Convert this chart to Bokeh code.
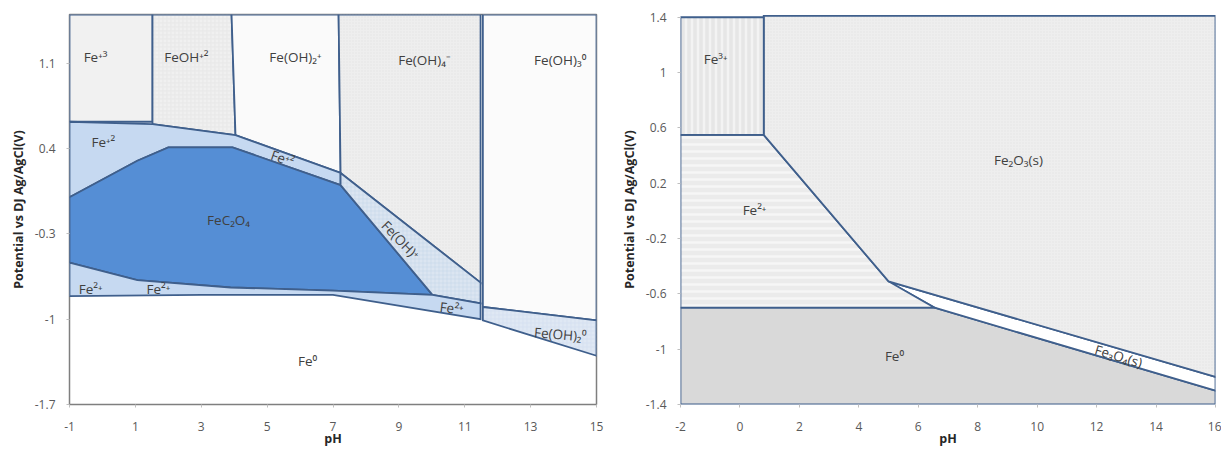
from bokeh.plotting import figure
from bokeh.layouts import row
from bokeh.models import ColumnDataSource, FixedTicker, CustomJSTickFormatter, Label, Range1d
from bokeh.embed import file_html
from bokeh.resources import INLINE
from bokeh.core.properties import value

# ---------------- Panel A data (pH, potential V vs Ag/AgCl) ----------------
a_fe3_x = [-1, 1.52, 1.52, -1]
a_fe3_y = [1.5, 1.5, 0.62, 0.62]
a_feoh2_x = [1.52, 3.92, 4.04, 1.52]
a_feoh2_y = [1.5, 1.5, 0.51, 0.60]
a_feoh2p_x = [3.92, 7.17, 7.23, 4.04]
a_feoh2p_y = [1.5, 1.5, 0.20, 0.51]
a_feoh4_x = [7.17, 11.48, 11.48, 7.23]
a_feoh4_y = [1.5, 1.5, -0.70, 0.20]
a_feoh3_x = [11.55, 15, 15, 11.55]
a_feoh3_y = [1.5, 1.5, -1.01, -0.90]
a_feoh20_x = [11.55, 15, 15, 11.55]
a_feoh20_y = [-0.90, -1.01, -1.30, -1.01]
a_fe2up_x = [-1, 1.52, 4.04, 7.23, 7.23, 3.95, 2.0, 1.06, -1]
a_fe2up_y = [0.62, 0.60, 0.51, 0.20, 0.10, 0.41, 0.41, 0.30, 0.0]
a_fec2o4_x = [-1, 1.06, 2.0, 3.95, 7.23, 10.02, 7.0, 3.89, 1.06, -1]
a_fec2o4_y = [0.0, 0.30, 0.41, 0.41, 0.10, -0.80, -0.765, -0.74, -0.68, -0.535]
a_feohp_x = [7.23, 11.48, 11.48, 10.02, 7.23]
a_feohp_y = [0.20, -0.70, -0.87, -0.80, 0.10]
a_fe2lo_x = [-1, 1.06, 3.89, 7.0, 10.02, 11.48, 11.48, 7.0, 3.0, -1]
a_fe2lo_y = [-0.535, -0.68, -0.74, -0.765, -0.80, -0.87, -1.0, -0.80, -0.80, -0.81]

a_label_text = ["Fe⁺³", "FeOH⁺²", "Fe(OH)₂⁺", "Fe(OH)₄⁻", "Fe(OH)₃⁰", "Fe⁺²", "Fe⁺²",
                "FeC₂O₄", "Fe(OH)⁺", "Fe²⁺", "Fe²⁺", "Fe²⁺", "Fe(OH)₂⁰", "Fe⁰"]
a_label_x = [-0.21, 2.55, 5.86, 9.78, 13.9, 0.03, 5.47, 3.83, 9.05, -0.36, 1.70, 10.6, 13.9, 6.23]
a_label_y = [1.15, 1.15, 1.15, 1.125, 1.125, 0.45, 0.32, -0.19, -0.35, -0.75, -0.75, -0.91, -1.125, -1.34]
a_label_angle = [0, 0, 0, 0, 0, 0, -0.33, 0, -0.80, 0, 0, -0.12, -0.08, 0]

a_xticks = [-1, 1, 3, 5, 7, 9, 11, 13, 15]
a_yticks = [-1.7, -1, -0.3, 0.4, 1.1]

# ---------------- Panel B data ----------------
b_fe3_x = [-2, 0.8, 0.8, -2]
b_fe3_y = [1.4, 1.4, 0.55, 0.55]
b_fe2o3_x = [0.8, 16, 16, 5.0, 0.8]
b_fe2o3_y = [1.41, 1.41, -1.2, -0.51, 0.55]
b_fe2_x = [-2, 0.8, 5.0, 6.55, -2]
b_fe2_y = [0.55, 0.55, -0.51, -0.70, -0.70]
b_fe3o4_x = [5.0, 16, 16, 6.55]
b_fe3o4_y = [-0.51, -1.2, -1.3, -0.70]
b_fe0_x = [-2, 6.55, 16, 16, -2]
b_fe0_y = [-0.70, -0.70, -1.3, -1.4, -1.4]

b_label_text = ["Fe³⁺", "Fe²⁺", "Fe₂O₃(s)", "Fe⁰", "Fe₃O₄(s)"]
b_label_x = [-0.82, 0.49, 9.37, 5.2, 12.74]
b_label_y = [1.10, 0.007, 0.37, -1.05, -1.05]
b_label_angle = [0, 0, 0, 0, -0.29]

b_xticks = [-2, 0, 2, 4, 6, 8, 10, 12, 14, 16]
b_yticks = [-1.4, -1, -0.6, -0.2, 0.2, 0.6, 1, 1.4]

EDGE = "#3f5f8c"
FONT = "Open Sans"
TXT = "#404040"
FMT = CustomJSTickFormatter(code="return String(Math.round(tick*10)/10);")


def style(p, xt, yt):
    p.grid.visible = False
    p.xaxis.ticker = FixedTicker(ticks=xt)
    p.yaxis.ticker = FixedTicker(ticks=yt)
    for ax in (p.xaxis[0], p.yaxis[0]):
        ax.formatter = FMT
        ax.axis_line_color = None
        ax.major_tick_in = 0
        ax.major_tick_out = 3
        ax.major_tick_line_color = "#bfbfbf"
        ax.minor_tick_line_color = None
        ax.major_label_text_font = FONT
        ax.major_label_text_font_size = "12px"
        ax.major_label_text_color = "#595959"
        ax.axis_label_text_font = FONT
        ax.axis_label_text_font_style = "bold"
        ax.axis_label_text_font_size = "12.5px"
        ax.axis_label_text_color = "#262626"
    p.xaxis.major_label_standoff = 14
    p.yaxis.major_label_standoff = 11
    p.yaxis.axis_label = "Potential vs DJ Ag/AgCl(V)"
    p.yaxis.axis_label_standoff = 5
    p.xaxis.axis_label = "pH"
    p.xaxis.axis_label_standoff = -4


def region(p, xs, ys, fill, hatch=None, hcolor=None, hscale=6, hweight=1.5, line=True):
    kw = dict(fill_color=fill, line_color=EDGE if line else None, line_width=1.8,
              line_join="miter")
    if hatch:
        kw.update(hatch_pattern=hatch, hatch_color=hcolor, hatch_scale=hscale,
                  hatch_weight=hweight)
    p.patch(xs, ys, **kw)


# ---------------- Figure A ----------------
pA = figure(width=610, height=450, x_range=Range1d(-1, 15), y_range=Range1d(-1.7, 1.5),
            output_backend="svg", toolbar_location=None,
            min_border_left=69, min_border_right=14, min_border_top=14, min_border_bottom=46)
style(pA, a_xticks, a_yticks)
pA.outline_line_color = "#7f7f7f"
pA.outline_line_width = 1.5

region(pA, a_fe3_x, a_fe3_y, "#f1f1f1")
region(pA, a_feoh2_x, a_feoh2_y, "#f0f0f0", "+", "#e2e2e2", 4, 0.6)
region(pA, a_feoh2p_x, a_feoh2p_y, "#fafafa")
region(pA, a_feoh4_x, a_feoh4_y, "#eeeeee", ".", "#e2e2e2", 3, 0.6)
region(pA, a_feoh3_x, a_feoh3_y, "#fbfbfb")
region(pA, a_feoh20_x, a_feoh20_y, "#dfe8f4", "+", "#cfdcee", 4, 0.6)
region(pA, a_fe2up_x, a_fe2up_y, "#c6d9f1")
region(pA, a_fec2o4_x, a_fec2o4_y, "#558ed5")
region(pA, a_feohp_x, a_feohp_y, "#dbe5f1", "+", "#c6d6ea", 4, 0.6)
region(pA, a_fe2lo_x, a_fe2lo_y, "#c6d9f1")

srcA = ColumnDataSource(dict(x=a_label_x, y=a_label_y, text=a_label_text, angle=a_label_angle))
pA.text(x="x", y="y", text="text", angle="angle", source=srcA, text_font=value(FONT),
        text_font_size="13.5px", text_color=TXT, text_align="center", text_baseline="middle")

pA.add_layout(Label(x=-2.8, y=1.36, text="A)", text_font="Liberation Serif",
                    text_font_size="28px", text_color="black", text_baseline="middle"))

# ---------------- Figure B ----------------
pB = figure(width=611, height=450, x_range=Range1d(-2, 16), y_range=Range1d(-1.4, 1.42),
            output_backend="svg", toolbar_location=None,
            min_border_left=70, min_border_right=6, min_border_top=14, min_border_bottom=45)
style(pB, b_xticks, b_yticks)
pB.outline_line_color = None

region(pB, b_fe0_x, b_fe0_y, "#d9d9d9")
region(pB, b_fe3o4_x, b_fe3o4_y, "#ffffff")
region(pB, b_fe2_x, b_fe2_y, "#ebebeb", "-", "#f6f6f6", 7, 2.5)
region(pB, b_fe2o3_x, b_fe2o3_y, "#eeeeee", ".", "#e4e4e4", 3, 0.6)
region(pB, b_fe3_x, b_fe3_y, "#e6e6e6", "|", "#f3f3f3", 6, 2.5)

srcB = ColumnDataSource(dict(x=b_label_x, y=b_label_y, text=b_label_text, angle=b_label_angle))
pB.text(x="x", y="y", text="text", angle="angle", source=srcB, text_font=value(FONT),
        text_font_size="13.5px", text_color=TXT, text_align="center", text_baseline="middle")

pB.add_layout(Label(x=-4.29, y=1.335, text="B)", text_font="Liberation Serif",
                    text_font_size="28px", text_color="black", text_baseline="middle"))

layout = row(pA, pB)
open("out.html", "w").write(file_html(layout, INLINE))
